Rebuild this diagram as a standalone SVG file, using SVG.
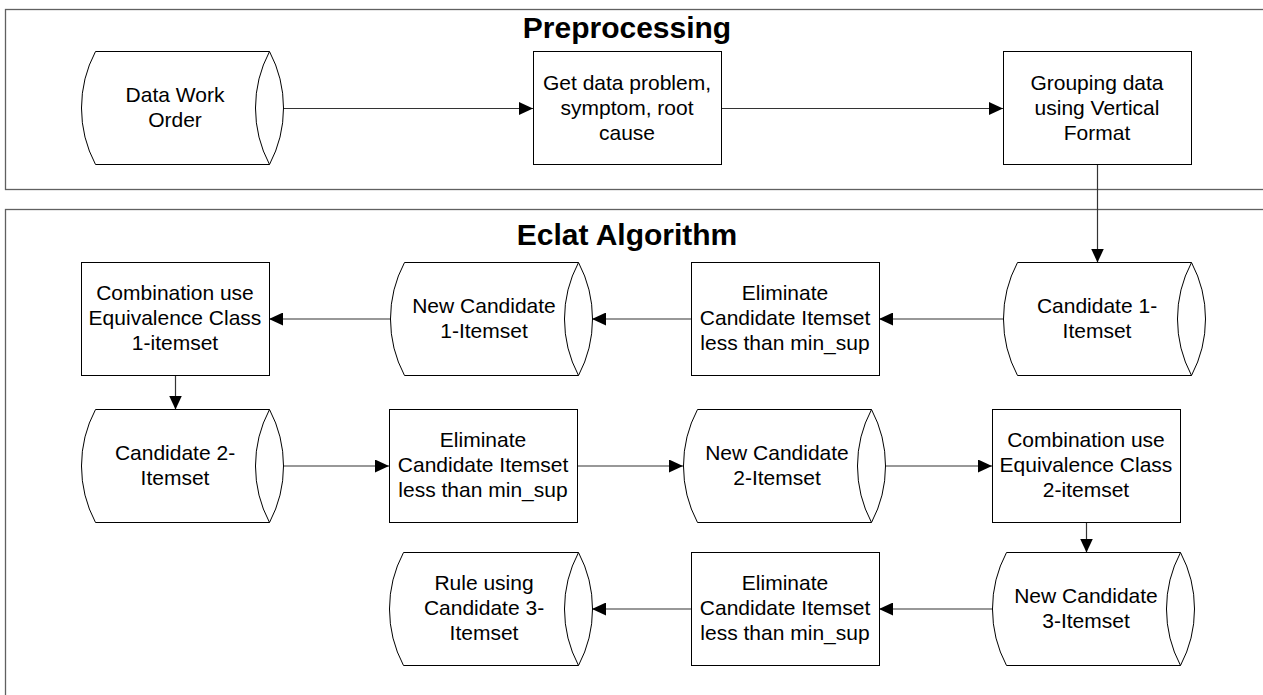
<svg xmlns="http://www.w3.org/2000/svg" width="1263" height="695" viewBox="0 0 1263 695">
<style>
.frame{fill:none;stroke:#606060;stroke-width:1.3}
.title{font-family:"Liberation Sans",Arial,sans-serif;font-weight:bold;font-size:30px;text-anchor:middle;fill:#000}
.shape{fill:#fff;stroke:#000;stroke-width:1}
.lbl{font-family:"Liberation Sans",Arial,sans-serif;font-size:21px;text-anchor:middle;fill:#000}
.conn{fill:none;stroke:#333;stroke-width:1.2}
</style>
<defs>
<marker id="arr" markerUnits="userSpaceOnUse" markerWidth="14" markerHeight="13" refX="14" refY="6.5" orient="auto">
<path d="M0,0 L14,6.5 L0,13 Z" fill="#000"/>
</marker>
</defs>
<rect fill="#fff" width="1263" height="695"/>
<g id="frames">
<rect class="frame" x="5.5" y="9.5" width="1300" height="180"/>
<rect class="frame" x="5.5" y="209.5" width="1300" height="600"/>
<text class="title" x="627" y="38">Preprocessing</text>
<text class="title" x="627" y="245">Eclat Algorithm</text>
</g>
<g id="connectors">
<line class="conn" x1="283" y1="108.5" x2="533" y2="108.5" marker-end="url(#arr)"/>
<line class="conn" x1="721" y1="108.5" x2="1003" y2="108.5" marker-end="url(#arr)"/>
<line class="conn" x1="1097.5" y1="164.5" x2="1097.5" y2="262.5" marker-end="url(#arr)"/>
<line class="conn" x1="1003" y1="319" x2="879" y2="319" marker-end="url(#arr)"/>
<line class="conn" x1="691" y1="319" x2="592" y2="319" marker-end="url(#arr)"/>
<line class="conn" x1="390" y1="319" x2="269" y2="319" marker-end="url(#arr)"/>
<line class="conn" x1="175.5" y1="375.5" x2="175.5" y2="409.5" marker-end="url(#arr)"/>
<line class="conn" x1="283" y1="466" x2="389" y2="466" marker-end="url(#arr)"/>
<line class="conn" x1="577" y1="466" x2="683" y2="466" marker-end="url(#arr)"/>
<line class="conn" x1="885" y1="466" x2="992" y2="466" marker-end="url(#arr)"/>
<line class="conn" x1="1086.5" y1="522.5" x2="1086.5" y2="552.5" marker-end="url(#arr)"/>
<line class="conn" x1="992" y1="609" x2="879" y2="609" marker-end="url(#arr)"/>
<line class="conn" x1="691" y1="609" x2="592" y2="609" marker-end="url(#arr)"/>
</g>
<g id="data-work-order">
<path class="shape" d="M95.5,51.5 L269.5,51.5 A121,121 0 0 1 269.5,164.5 L95.5,164.5 A121,121 0 0 1 95.5,51.5 Z M269.5,51.5 A121,121 0 0 0 269.5,164.5"/>
<text class="lbl" x="175" y="102">Data Work</text>
<text class="lbl" x="175" y="127">Order</text>
</g>
<g id="get-data">
<rect class="shape" x="533.5" y="51.5" width="188" height="113"/>
<text class="lbl" x="627" y="90">Get data problem,</text>
<text class="lbl" x="627" y="115">symptom, root</text>
<text class="lbl" x="627" y="140">cause</text>
</g>
<g id="grouping">
<rect class="shape" x="1003.5" y="51.5" width="188" height="113"/>
<text class="lbl" x="1097" y="90">Grouping data</text>
<text class="lbl" x="1097" y="115">using Vertical</text>
<text class="lbl" x="1097" y="140">Format</text>
</g>
<g id="candidate-1">
<path class="shape" d="M1017.5,262.5 L1191.5,262.5 A121,121 0 0 1 1191.5,375.5 L1017.5,375.5 A121,121 0 0 1 1017.5,262.5 Z M1191.5,262.5 A121,121 0 0 0 1191.5,375.5"/>
<text class="lbl" x="1097" y="313">Candidate 1-</text>
<text class="lbl" x="1097" y="338">Itemset</text>
</g>
<g id="eliminate-1">
<rect class="shape" x="691.5" y="262.5" width="188" height="113"/>
<text class="lbl" x="785" y="300">Eliminate</text>
<text class="lbl" x="785" y="325">Candidate Itemset</text>
<text class="lbl" x="785" y="350">less than min_sup</text>
</g>
<g id="new-candidate-1">
<path class="shape" d="M404.5,262.5 L578.5,262.5 A121,121 0 0 1 578.5,375.5 L404.5,375.5 A121,121 0 0 1 404.5,262.5 Z M578.5,262.5 A121,121 0 0 0 578.5,375.5"/>
<text class="lbl" x="484" y="313">New Candidate</text>
<text class="lbl" x="484" y="338">1-Itemset</text>
</g>
<g id="combination-1">
<rect class="shape" x="81.5" y="262.5" width="188" height="113"/>
<text class="lbl" x="175" y="300">Combination use</text>
<text class="lbl" x="175" y="325">Equivalence Class</text>
<text class="lbl" x="175" y="350">1-itemset</text>
</g>
<g id="candidate-2">
<path class="shape" d="M95.5,409.5 L269.5,409.5 A121,121 0 0 1 269.5,522.5 L95.5,522.5 A121,121 0 0 1 95.5,409.5 Z M269.5,409.5 A121,121 0 0 0 269.5,522.5"/>
<text class="lbl" x="175" y="460">Candidate 2-</text>
<text class="lbl" x="175" y="485">Itemset</text>
</g>
<g id="eliminate-2">
<rect class="shape" x="389.5" y="409.5" width="188" height="113"/>
<text class="lbl" x="483" y="447">Eliminate</text>
<text class="lbl" x="483" y="472">Candidate Itemset</text>
<text class="lbl" x="483" y="497">less than min_sup</text>
</g>
<g id="new-candidate-2">
<path class="shape" d="M697.5,409.5 L871.5,409.5 A121,121 0 0 1 871.5,522.5 L697.5,522.5 A121,121 0 0 1 697.5,409.5 Z M871.5,409.5 A121,121 0 0 0 871.5,522.5"/>
<text class="lbl" x="777" y="460">New Candidate</text>
<text class="lbl" x="777" y="485">2-Itemset</text>
</g>
<g id="combination-2">
<rect class="shape" x="992.5" y="409.5" width="188" height="113"/>
<text class="lbl" x="1086" y="447">Combination use</text>
<text class="lbl" x="1086" y="472">Equivalence Class</text>
<text class="lbl" x="1086" y="497">2-itemset</text>
</g>
<g id="new-candidate-3">
<path class="shape" d="M1006.5,552.5 L1180.5,552.5 A121,121 0 0 1 1180.5,665.5 L1006.5,665.5 A121,121 0 0 1 1006.5,552.5 Z M1180.5,552.5 A121,121 0 0 0 1180.5,665.5"/>
<text class="lbl" x="1086" y="603">New Candidate</text>
<text class="lbl" x="1086" y="628">3-Itemset</text>
</g>
<g id="eliminate-3">
<rect class="shape" x="691.5" y="552.5" width="188" height="113"/>
<text class="lbl" x="785" y="590">Eliminate</text>
<text class="lbl" x="785" y="615">Candidate Itemset</text>
<text class="lbl" x="785" y="640">less than min_sup</text>
</g>
<g id="rule">
<path class="shape" d="M403.5,552.5 L578.5,552.5 A121,121 0 0 1 578.5,665.5 L403.5,665.5 A121,121 0 0 1 403.5,552.5 Z M578.5,552.5 A121,121 0 0 0 578.5,665.5"/>
<text class="lbl" x="484" y="590">Rule using</text>
<text class="lbl" x="484" y="615">Candidate 3-</text>
<text class="lbl" x="484" y="640">Itemset</text>
</g>
</svg>
